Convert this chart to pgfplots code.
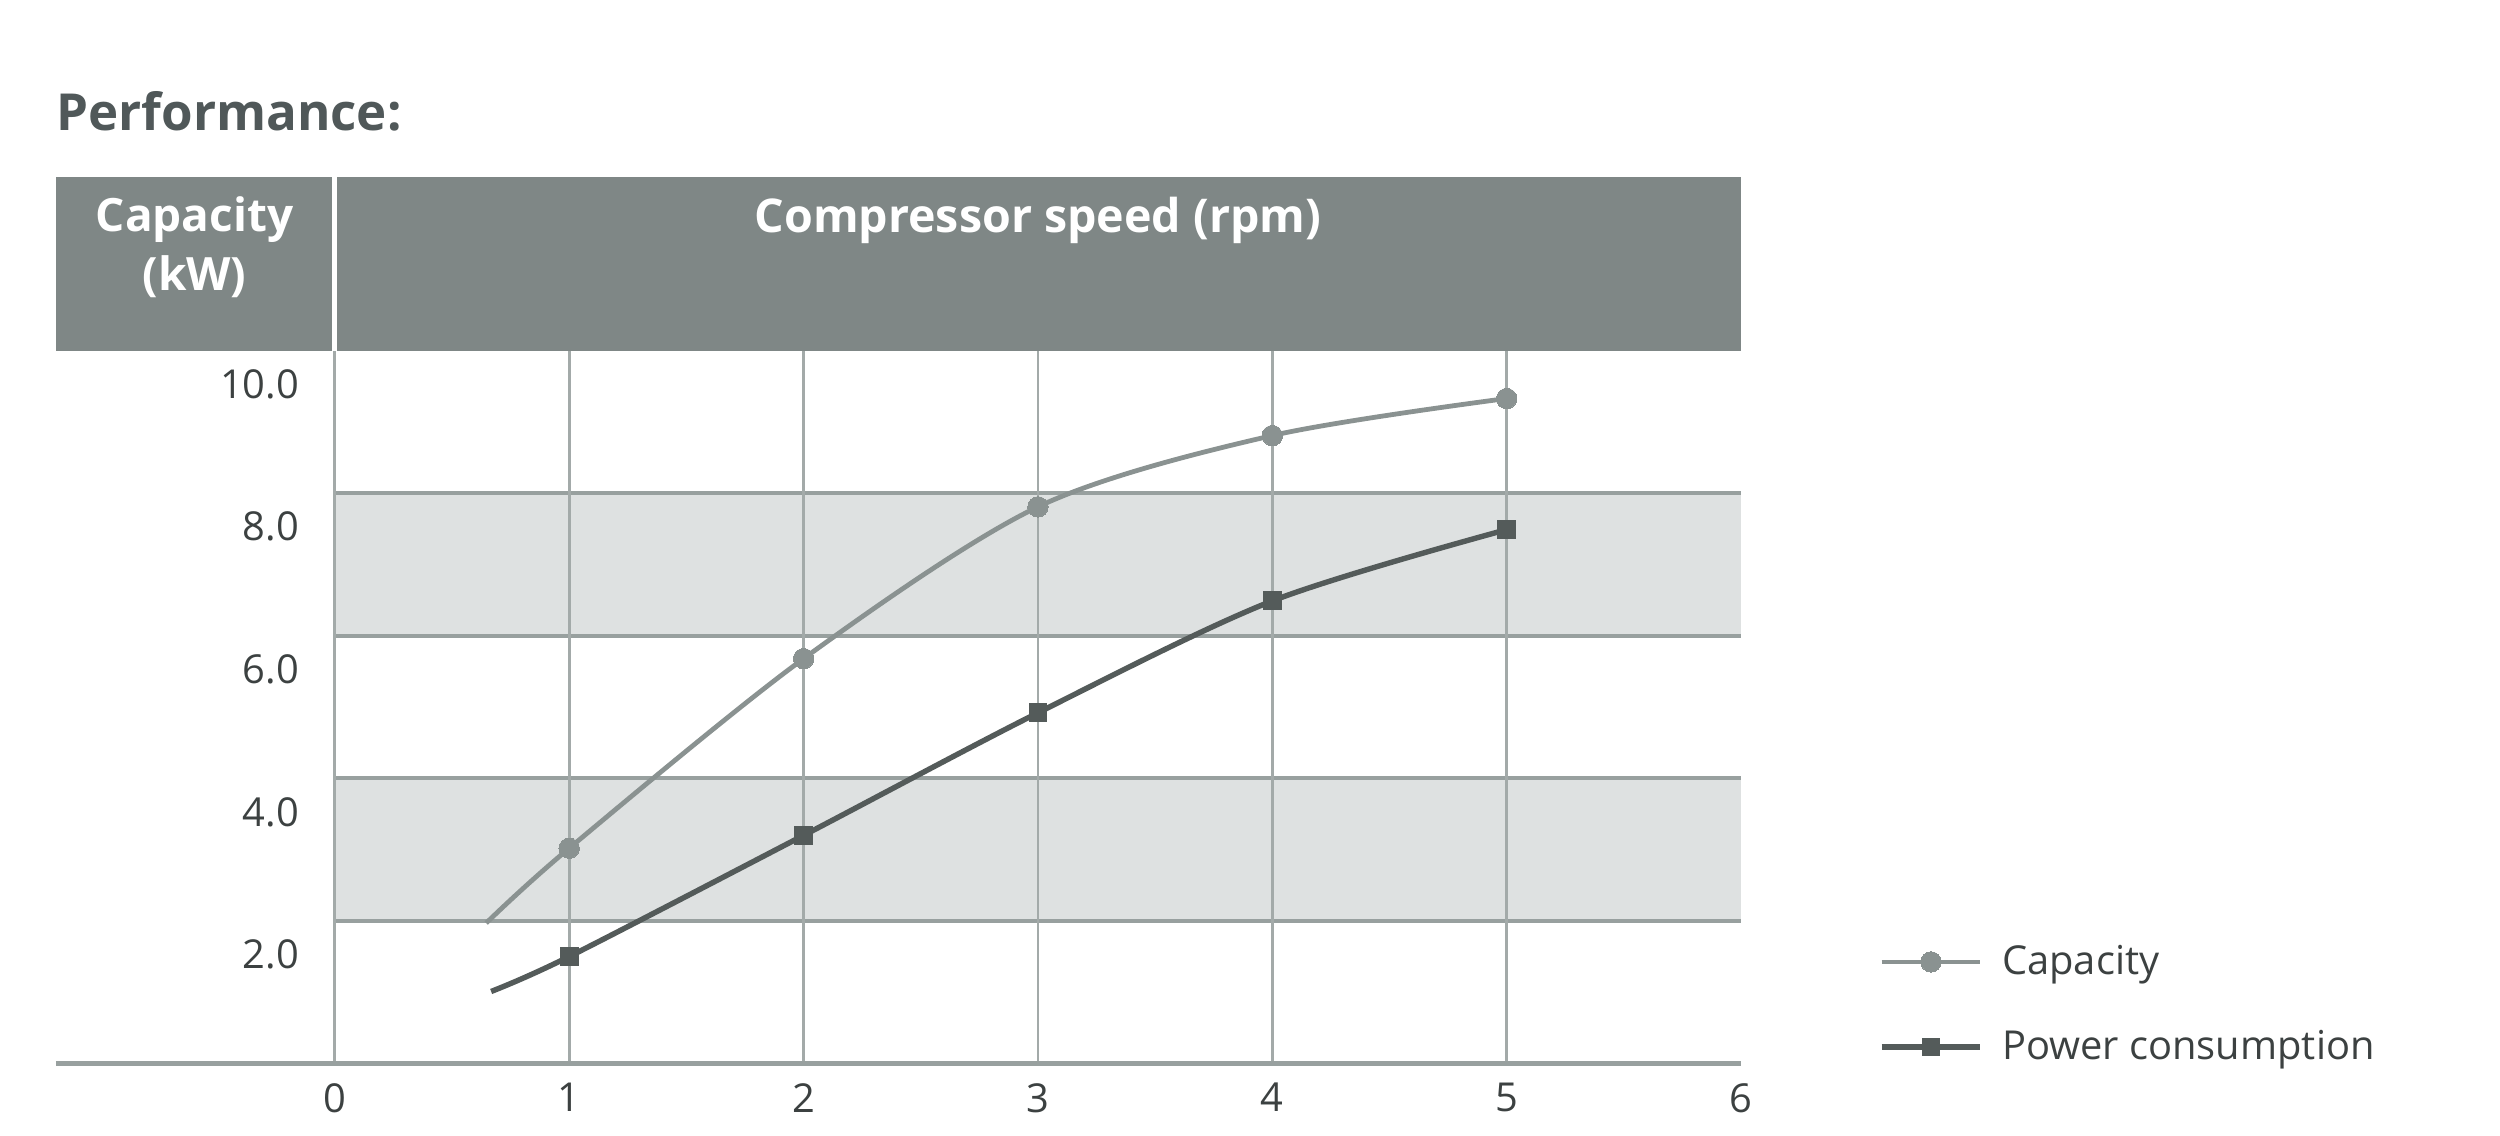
\documentclass[border=0pt]{standalone}
\usepackage{fontspec}
\setmainfont{Open Sans}
\usepackage{pgfplots}
\pgfplotsset{compat=1.18}
\definecolor{hdr}{RGB}{127,135,134}
\definecolor{band}{RGB}{222,225,225}
\definecolor{hgrid}{RGB}{152,160,159}
\definecolor{vgrid}{RGB}{163,170,169}
\definecolor{capc}{RGB}{138,146,145}
\definecolor{powc}{RGB}{84,91,90}
\definecolor{txtc}{RGB}{60,65,65}
\definecolor{titc}{RGB}{80,88,89}
\begin{document}
\begin{tikzpicture}
\begin{axis}[
  at={(0pt,0pt)}, anchor=origin,
  width=441pt, height=223.5pt, scale only axis,
  xmin=0, xmax=6, ymin=0, ymax=10,
  clip=false,
  axis line style={draw=none},
  major tick length=0pt,
  xtick={0,1,2,3,4,5,6},
  xticklabels={0,1,2,3,4,5,6},
  ytick={2,4,6,8,10},
  yticklabels={2.0,4.0,6.0,8.0,10.0},
  ticklabel style={font=\fontsize{12.5}{15}\selectfont, text=txtc},
  xticklabel style={anchor=north, inner sep=0pt, yshift=-6pt},
  yticklabel style={anchor=east, inner sep=0pt, xshift=-11pt, yshift=-10.5pt},
  legend style={draw=none, fill=none, inner sep=0pt, at={(1.0975,0.0828)}, anchor=west,
    font=\fontsize{12.5}{15}\selectfont, text=txtc, row sep=12pt,
    cells={anchor=west},
    /tikz/every odd column/.append style={column sep=4pt}},
  legend image code/.code={\draw[#1,mark indices={2}] plot coordinates {(0pt,0pt) (15.5pt,0pt) (31pt,0pt)};},
]
\fill[band] (axis cs:0,2) rectangle (axis cs:6,4);
\fill[band] (axis cs:0,6) rectangle (axis cs:6,8);
\draw[hgrid, line width=1.3pt] (axis cs:0,2) -- (axis cs:6,2);
\draw[hgrid, line width=1.3pt] (axis cs:0,4) -- (axis cs:6,4);
\draw[hgrid, line width=1.3pt] (axis cs:0,6) -- (axis cs:6,6);
\draw[hgrid, line width=1.3pt] (axis cs:0,8) -- (axis cs:6,8);
\draw[vgrid, line width=0.9pt] (axis cs:0,0) -- (axis cs:0,10);
\draw[vgrid, line width=0.9pt] (axis cs:1,0) -- (axis cs:1,10);
\draw[vgrid, line width=0.9pt] (axis cs:2,0) -- (axis cs:2,10);
\draw[vgrid, line width=0.9pt] (axis cs:3,0) -- (axis cs:3,10);
\draw[vgrid, line width=0.9pt] (axis cs:4,0) -- (axis cs:4,10);
\draw[vgrid, line width=0.9pt] (axis cs:5,0) -- (axis cs:5,10);
\addplot[capc, line width=1.5pt, smooth, mark=*, mark size=3.2pt, mark indices={2,3,4,5,6},
  mark options={fill=capc, draw=capc, line width=0pt}]
  coordinates {(0.646,1.97) (1,3.02) (2,5.68) (3,7.81) (4,8.81) (5,9.33)};
\addlegendentry{Capacity}
\addplot[powc, line width=1.7pt, smooth, mark=square*, mark size=2.8pt, mark indices={2,3,4,5,6},
  mark options={fill=powc, draw=powc, line width=0pt}]
  coordinates {(0.667,1.01) (1,1.50) (2,3.20) (3,4.92) (4,6.49) (5,7.49)};
\addlegendentry{Power consumption}
\end{axis}
% bottom axis line
\draw[hgrid, line width=1.5pt] (-87.5pt,0pt) -- (441pt,0pt);
% header
\fill[hdr] (-87.5pt,223.5pt) rectangle (441pt,278pt);
\draw[white, line width=1.5pt] (0pt,223.5pt) -- (0pt,278pt);
\node[align=center, text=white, font=\bfseries\fontsize{14.4}{18.5}\selectfont, anchor=north, inner sep=0pt] at (-44pt,272pt) {Capacity\\(kW)};
\node[text=white, font=\bfseries\fontsize{14.6}{18.5}\selectfont, anchor=center, inner sep=0pt] at (220.5pt,264.5pt) {Compressor speed (rpm)};
% title
\node[anchor=base west, inner sep=0pt, text=titc, font=\bfseries\fontsize{16}{20}\selectfont] at (-87.5pt,292.5pt) {Performance:};
\pgfresetboundingbox
\path[use as bounding box] (-105pt,-22.5pt) rectangle (679pt,333.5pt);
\end{tikzpicture}
\end{document}
